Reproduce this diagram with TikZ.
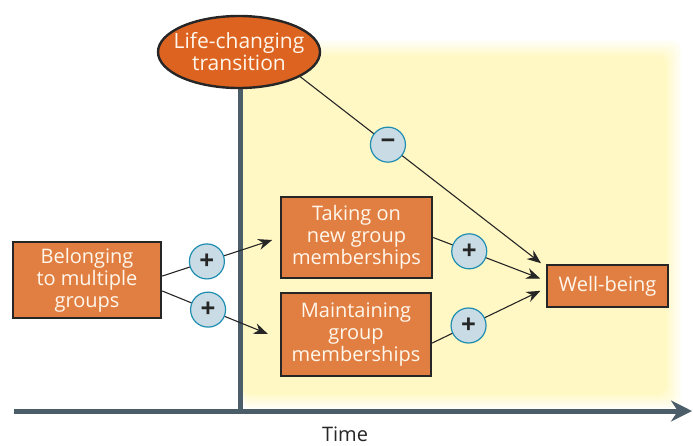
\documentclass[tikz,border=0pt]{standalone}
\usepackage{fontspec}
\setmainfont{Open Sans}
\usetikzlibrary{arrows.meta,calc,shapes.geometric}
\definecolor{ink}{HTML}{262626}
\definecolor{slate}{HTML}{4A5D69}
\definecolor{glow}{HTML}{FFF8C4}
\definecolor{boxfill}{HTML}{E17F42}
\definecolor{eventfill}{HTML}{DD6321}
\definecolor{signfill}{HTML}{C9DCE6}
\definecolor{signline}{HTML}{1E8DB0}
\definecolor{cream}{HTML}{FFF7EC}

\begin{document}
\begin{tikzpicture}[x=1pt,y=-1pt,>={Stealth[length=14pt,width=11pt]},
  every node/.style={font=\fontsize{20}{22}\selectfont},
  factor/.style={draw=ink,line width=2.4pt,fill=boxfill,text=cream,
    align=center,inner sep=0pt},
  sign/.style={circle,draw=signline,line width=1.2pt,fill=signfill,
    minimum size=35pt,inner sep=0pt,text=ink,
    font=\fontsize{26}{26}\selectfont\bfseries},
  link/.style={ink,line width=1.1pt}]
  \useasboundingbox (0,0) rectangle (693,445);

  % soft yellow field after the transition
  \foreach \i [evaluate=\i as \mix using 100*(\i+1)/9] in {0,...,8}
    \fill[glow!\mix!white,rounded corners=10pt]
      (242,40+2*\i) rectangle (682-2*\i,410-2*\i);

  % time axes
  \draw[slate,line width=5pt] (240,60) -- (240,413);
  \draw[slate,line width=5pt,-{Stealth[length=21pt,width=21pt]}]
    (14,411) -- (692,411);
  \node[text=ink,anchor=base] (time) at (345,441) {Time};

  \node[ellipse,draw=ink,line width=2.4pt,fill=eventfill,text=cream,
        align=center,inner xsep=-8pt,inner ysep=-4pt,
        minimum width=158pt,minimum height=72pt,
        font=\fontsize{21}{22}\selectfont]
    (transition) at (239,52) {Life-changing\\transition};

  \node[factor,minimum width=148pt,minimum height=76pt] (belong)
    at (87,280) {Belonging\\to multiple\\groups};
  \node[factor,minimum width=151pt,minimum height=81pt] (newgrp)
    at (356.5,237.5) {Taking on\\new group\\memberships};
  \node[factor,minimum width=150pt,minimum height=83pt] (keepgrp)
    at (356,334.5) {Maintaining\\group\\memberships};
  \node[factor,minimum width=121pt,minimum height=42pt] (wellbeing)
    at (607.5,286) {Well-being};

  \draw[link,->,shorten >=8pt]
    ($(belong.north east)!.45!(belong.south east)$) -- (newgrp.west)
    node[sign,pos=.38] (plusnew) {+};
  \draw[link,->,shorten >=13pt]
    ($(belong.north east)!.64!(belong.south east)$)
      -- ($(keepgrp.north west)!.55!(keepgrp.south west)$)
    node[sign,pos=.39] (pluskeep) {+};
  \draw[link,->,shorten >=6pt]
    (transition.-22) -- ($(wellbeing.north west)!.07!(wellbeing.south west)$)
    node[sign,pos=.357] (minuswb) {\symbol{"2212}};
  \draw[link,->,shorten >=6pt]
    (newgrp.east) -- ($(wellbeing.north west)!.38!(wellbeing.south west)$)
    node[sign,pos=.32] (plusnewwb) {+};
  \draw[link,->,shorten >=6pt]
    ($(keepgrp.north east)!.6!(keepgrp.south east)$)
      -- ($(wellbeing.north west)!.55!(wellbeing.south west)$)
    node[sign,pos=.32] (pluskeepwb) {+};
\end{tikzpicture}
\end{document}
